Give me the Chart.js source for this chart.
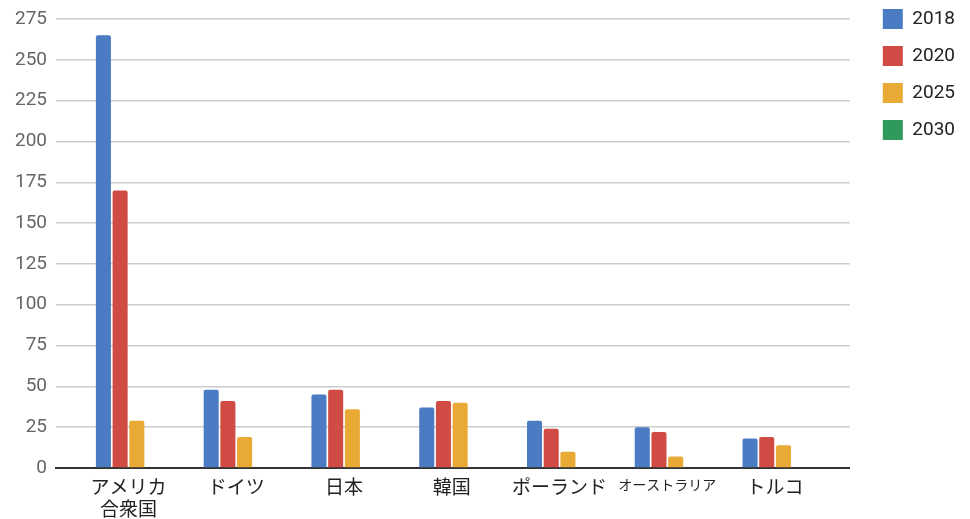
<!DOCTYPE html>
<html>
<head>
<meta charset="utf-8">
<script src="https://cdn.jsdelivr.net/npm/chart.js@4/dist/chart.umd.min.js"></script>
<style>
  html, body { margin: 0; padding: 0; background: #fff; }
  #wrap { width: 970px; height: 519px; position: relative; }
</style>
</head>
<body>
<div id="wrap"><canvas id="robotChart"></canvas></div>
<script>
// countries on the x axis
var countries = [['アメリカ', '合衆国'], 'ドイツ', '日本', '韓国', 'ポーランド', 'オーストラリア', 'トルコ'];
var years = ['2018', '2020', '2025', '2030'];

var values2018 = [265, 48, 45, 37, 29, 25, 18];
var values2020 = [170, 41, 48, 41, 24, 22, 19];
var values2025 = [29, 19, 36, 40, 10, 7, 14];
var values2030 = [null, null, null, null, null, null, null];

var yTicks = [0, 25, 50, 75, 100, 125, 150, 175, 200, 225, 250, 275];
var colors = ['#4a7bc3', '#d14b45', '#e9a935', '#2f9a5c'];

function points(vals) {
  return vals.map(function(v, i) { return { x: i, y: v }; });
}

var chartData = {
  datasets: [values2018, values2020, values2025, values2030].map(function(vals, k) {
    return {
      label: years[k],
      data: points(vals),
      backgroundColor: colors[k],
      borderRadius: { topLeft: 2, topRight: 2 },
      borderSkipped: 'bottom',
      categoryPercentage: 0.62,
      barPercentage: 0.9
    };
  })
};

var fontFamily = "Roboto, 'Noto Sans CJK JP', sans-serif";

// nudge the legend block a bit right and up from where the layout puts it
var legendShift = {
  id: 'legendShift',
  afterUpdate: function(chart) {
    var lg = chart.legend;
    lg.left += 16; lg.right += 16;
    lg.top -= 8; lg.bottom -= 8;
  }
};

var ctx = document.getElementById('robotChart').getContext('2d');
new Chart(ctx, {
  type: 'bar',
  data: chartData,
  plugins: [legendShift],
  options: {
    responsive: true,
    maintainAspectRatio: false,
    animation: false,
    layout: { padding: { left: 0, right: 21, top: 0, bottom: 0 } },
    plugins: {
      tooltip: { enabled: false },
      legend: {
        position: 'right',
        align: 'start',
        labels: {
          boxWidth: 20,
          boxHeight: 20,
          padding: 17,
          color: '#222',
          font: { family: fontFamily, size: 19 }
        }
      }
    },
    scales: {
      x: {
        type: 'linear',
        offset: false,
        min: -0.6725,
        max: 6.693,
        grid: { display: false, drawTicks: false },
        border: { display: true, color: '#333', width: 2 },
        afterBuildTicks: function(scale) {
          scale.ticks = countries.map(function(c, i) { return { value: i }; });
        },
        // fixed label band under the plot; the second line of a wrapped name runs off the bottom
        afterFit: function(scale) {
          scale.height = 51;
          scale.paddingLeft = 0;
          scale.paddingRight = 0;
        },
        ticks: {
          autoSkip: false,
          maxRotation: 0,
          padding: 11,
          color: '#222',
          font: function(c) {
            return { family: fontFamily, size: c.index === 5 ? 14 : 19, lineHeight: 1.12 };
          },
          callback: function(v) { return countries[v]; }
        }
      },
      y: {
        min: 0,
        max: 275,
        afterBuildTicks: function(scale) {
          scale.ticks = yTicks.map(function(v) { return { value: v }; });
        },
        afterFit: function(scale) {
          scale.width = 56;
          scale.paddingTop = 19;
          scale.paddingBottom = 0;
        },
        grid: { color: '#cccccc', lineWidth: 1.5, drawTicks: false },
        border: { display: false },
        ticks: {
          padding: 9,
          color: '#666',
          font: { family: fontFamily, size: 19 }
        }
      }
    }
  }
});
</script>
</body>
</html>
